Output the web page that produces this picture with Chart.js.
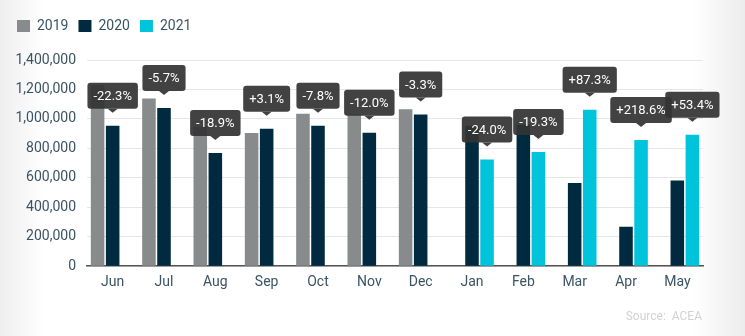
<!DOCTYPE html>
<html>
<head>
<meta charset="utf-8">
<script src="https://cdn.jsdelivr.net/npm/chart.js@4.4.1/dist/chart.umd.min.js"></script>
<style>
  html, body { margin: 0; padding: 0; }
  body {
    width: 745px; height: 336px; overflow: hidden; position: relative;
    background: linear-gradient(90deg, #eeeeee 0%, #ffffff 6%, #ffffff 93%, #ececec 100%);
    font-family: Roboto, sans-serif;
  }
  #wrap { position: absolute; left: 0; top: 0; width: 745px; height: 336px; }
  #source {
    position: absolute; right: 43px; top: 309px;
    font-size: 12px; color: #d2d2d2; white-space: pre;
  }
</style>
</head>
<body>
<div id="wrap"><canvas id="graf" width="745" height="336"></canvas></div>
<div id="source">Source:  ACEA</div>
<script>
// months shown on the x axis (Jun-Dec compare 2019/2020, Jan-May compare 2020/2021)
var months = ["Jun", "Jul", "Aug", "Sep", "Oct", "Nov", "Dec", "Jan", "Feb", "Mar", "Apr", "May"];
var y2019 = [1228000, 1139000, 947000, 905000, 1035000, 1030000, 1065000, null, null, null, null, null];
var y2020 = [954000, 1074000, 768000, 933000, 954000, 906000, 1030000, 954000, 960000, 565000, 268000, 582000];
var y2021 = [null, null, null, null, null, null, null, 725000, 775000, 1062000, 856000, 893000];
// change shown in the dark callouts
var change = ["-22.3%", "-5.7%", "-18.9%", "+3.1%", "-7.8%", "-12.0%", "-3.3%", "-24.0%", "-19.3%", "+87.3%", "+218.6%", "+53.4%"];

var slate = "#3a5464";

// draws the callout above the latest-year bar of each month
var callouts = {
  id: "callouts",
  afterDatasetsDraw: function (chart) {
    var ctx = chart.ctx;
    ctx.save();
    ctx.font = "13px Roboto";
    ctx.textAlign = "center";
    ctx.textBaseline = "middle";
    for (var i = 0; i < months.length; i++) {
      var dsIndex = y2021[i] != null ? 2 : 1;
      var bar = chart.getDatasetMeta(dsIndex).data[i];
      var x = bar.x;
      var tip = bar.y - 13;
      var w = ctx.measureText(change[i]).width + 12;
      var h = 26;
      var top = tip - 4 - h;
      ctx.fillStyle = "rgba(52, 52, 52, 0.93)";
      ctx.beginPath();
      ctx.roundRect(x - w / 2, top, w, h, 3);
      ctx.fill();
      ctx.beginPath();
      ctx.moveTo(x - 5, top + h);
      ctx.lineTo(x + 5, top + h);
      ctx.lineTo(x, tip);
      ctx.closePath();
      ctx.fill();
      ctx.fillStyle = "#ffffff";
      ctx.fillText(change[i], x, top + h / 2 + 1);
    }
    ctx.restore();
  }
};

// extra room between the legend and the plot
var legendGap = {
  id: "legendGap",
  beforeInit: function (chart) {
    var fit = chart.legend.fit;
    chart.legend.fit = function () {
      fit.bind(chart.legend)();
      this.height += 17;
    };
  }
};

new Chart(document.getElementById("graf"), {
  type: "bar",
  data: {
    labels: months,
    datasets: [
      { label: "2019", data: y2019, backgroundColor: "#878b8c" },
      { label: "2020", data: y2020, backgroundColor: "#002a40" },
      { label: "2021", data: y2021, backgroundColor: "#00c3dc" }
    ]
  },
  options: {
    responsive: false,
    animation: false,
    devicePixelRatio: 1,
    categoryPercentage: 0.88,
    barPercentage: 0.9,
    layout: { padding: { left: 7, right: 42, top: 9, bottom: 45 } },
    plugins: {
      legend: {
        display: true,
        align: "start",
        labels: {
          boxWidth: 13, boxHeight: 12, padding: 10,
          color: slate,
          font: { family: "Roboto", size: 14 }
        }
      },
      tooltip: { enabled: false }
    },
    scales: {
      x: {
        grid: { display: false },
        border: { color: "#555555", width: 1.5 },
        ticks: { color: slate, font: { family: "Roboto", size: 14 }, padding: 0, maxRotation: 0 }
      },
      y: {
        min: 0, max: 1400000,
        afterFit: function (scale) { scale.width = 80; },
        grid: { color: "#e6e6e6", drawTicks: false },
        border: { display: false },
        ticks: {
          stepSize: 200000, padding: 11, color: slate,
          font: { family: "Roboto", size: 14 },
          callback: function (v) { return v.toLocaleString("en-US"); }
        }
      }
    }
  },
  plugins: [callouts, legendGap]
});
</script>
</body>
</html>
